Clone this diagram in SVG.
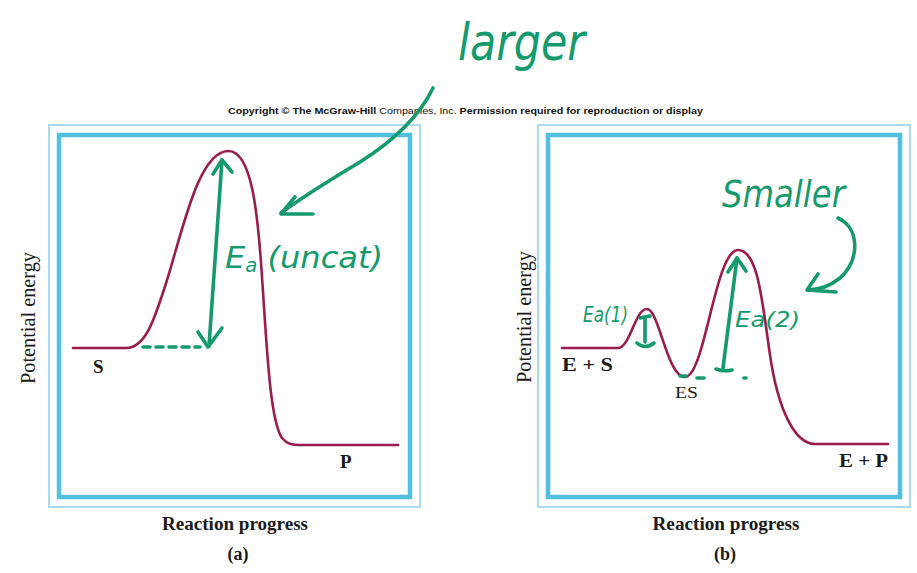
<svg xmlns="http://www.w3.org/2000/svg" width="917" height="573" viewBox="0 0 917 573">
<style>
.outer{fill:none;stroke:#a9dcef;stroke-width:2}
.inner{fill:none;stroke:#52bfe0;stroke-width:4.5}
.curve{fill:none;stroke:#9b1c4c;stroke-width:2.6;stroke-linecap:round;stroke-linejoin:round}
.ink{fill:none;stroke:#149a6c;stroke-width:3.6;stroke-linecap:round;stroke-linejoin:round}
.hand{fill:#149a6c;font-family:"DejaVu Sans","Noto Sans",sans-serif;font-style:italic}
.lbl{font-family:"Liberation Serif","Times New Roman",serif;fill:#1a1a1a}
.b{font-weight:bold}
.copy{font-family:"Liberation Sans",Arial,sans-serif;font-size:9.5px;fill:#111}
</style>
<rect width="917" height="573" fill="#ffffff"/>

<g id="copyright">
<text class="copy" x="228" y="114" textLength="475" lengthAdjust="spacingAndGlyphs"><tspan font-weight="bold">Copyright © The McGraw-Hill</tspan> Companies, Inc. <tspan font-weight="bold">Permission required for reproduction or display</tspan></text>
</g>

<g id="panel-a">
<rect class="outer" x="49" y="125" width="371" height="382"/>
<rect class="inner" x="59" y="135" width="351" height="362"/>
<path class="curve" d="M73,348 H126 C146,348 155,318 168,277 C185,220 200,152 228,151 C252,150 258,215 262,277 C267,350 270,420 282,438 C287,444 292,445 300,445 H398"/>
<text class="lbl b" x="93" y="373" font-size="19">S</text>
<text class="lbl b" x="340" y="468" font-size="19">P</text>
<text class="lbl" transform="translate(35,318) rotate(-90)" text-anchor="middle" font-size="20" textLength="132" lengthAdjust="spacingAndGlyphs">Potential energy</text>
<text class="lbl b" x="235" y="530" text-anchor="middle" font-size="18" textLength="146" lengthAdjust="spacingAndGlyphs">Reaction progress</text>
<text class="lbl b" x="238" y="560" text-anchor="middle" font-size="18">(a)</text>
</g>

<g id="panel-b">
<rect class="outer" x="538" y="125" width="372" height="382"/>
<rect class="inner" x="548" y="135" width="352" height="362"/>
<path class="curve" d="M562,348 H618 C630,348 635,309 647,309 C659,309 667,377 685,377 C705,377 715,250 738,250 C758,250 762,300 770,355 C778,410 795,444 815,444 H888"/>
<text class="lbl b" x="562" y="371" font-size="19" textLength="51" lengthAdjust="spacingAndGlyphs">E + S</text>
<text class="lbl" x="675" y="398" font-size="17" textLength="23" lengthAdjust="spacingAndGlyphs">ES</text>
<text class="lbl b" x="839" y="467" font-size="19" textLength="49" lengthAdjust="spacingAndGlyphs">E + P</text>
<text class="lbl" transform="translate(531,317) rotate(-90)" text-anchor="middle" font-size="20" textLength="132" lengthAdjust="spacingAndGlyphs">Potential energy</text>
<text class="lbl b" x="726" y="530" text-anchor="middle" font-size="18" textLength="147" lengthAdjust="spacingAndGlyphs">Reaction progress</text>
<text class="lbl b" x="725" y="560" text-anchor="middle" font-size="18">(b)</text>
</g>

<g id="annotation-larger">
<text class="hand" x="458" y="60" font-size="52" textLength="127" lengthAdjust="spacingAndGlyphs">larger</text>
</g>
<g id="annotation-ea-uncat">
<text class="hand" x="225" y="268" font-size="31" textLength="158" lengthAdjust="spacingAndGlyphs">E<tspan font-size="19" dy="4">a</tspan><tspan dy="-4"> (uncat)</tspan></text>
</g>
<g id="annotation-smaller">
<text class="hand" x="722" y="207" font-size="38" textLength="123" lengthAdjust="spacingAndGlyphs">Smaller</text>
</g>
<g id="annotation-ea1">
<text class="hand" x="583" y="322" font-size="21" textLength="45" lengthAdjust="spacingAndGlyphs">Ea(1)</text>
</g>
<g id="annotation-ea2">
<text class="hand" x="735" y="327" font-size="21" textLength="65" lengthAdjust="spacingAndGlyphs">Ea(2)</text>
</g>

<g id="connectors">
<path class="ink" d="M433,88 C420,115 395,140 360,162 C330,180 305,195 281,213"/>
<path class="ink" d="M295,197 L281,214 L313,214"/>
<path class="ink" d="M222,160 L209,346"/>
<path class="ink" d="M213,174 L222,160 L232,172"/>
<path class="ink" d="M198,332 L208,347 L222,328"/>
<path class="ink" d="M143,347 L200,347" stroke-dasharray="7 6" stroke-width="4"/>
<path class="ink" d="M645,318 L645,342"/>
<path class="ink" d="M640,318 L650,316"/>
<path class="ink" d="M637,343 Q645,350 654,343"/>
<path class="ink" d="M737,258 L723,368"/>
<path class="ink" d="M728,272 L737,258 L746,271"/>
<path class="ink" d="M716,369 Q724,372 732,370"/>
<path class="ink" d="M744,378 L746,378"/>
<path class="ink" d="M680,376 L686,376"/>
<path class="ink" d="M697,378 L704,378"/>
<path class="ink" d="M838,218 C860,228 860,260 840,278 C830,286 818,290 808,290"/>
<path class="ink" d="M818,274 L807,290 L836,292"/>
</g>
</svg>
